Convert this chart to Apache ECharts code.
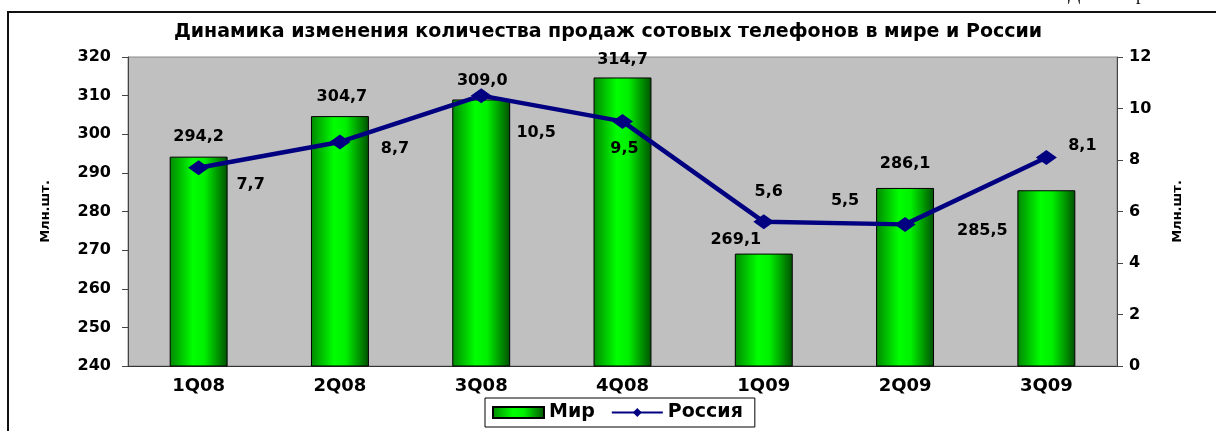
<!DOCTYPE html>
<html lang="ru">
<head>
<meta charset="UTF-8">
<title>Продажи сотовых телефонов</title>
<script src="https://cdn.jsdelivr.net/npm/echarts@6/dist/echarts.min.js"></script>
<style>
  html, body { margin: 0; padding: 0; background: #fff; }
  #chart { width: 1216px; height: 431px; }
</style>
</head>
<body>
<div id="chart"></div>
<script>
// данные
var categories = ['1Q08', '2Q08', '3Q08', '4Q08', '1Q09', '2Q09', '3Q09'];
var worldSales = [294.2, 304.7, 309.0, 314.7, 269.1, 286.1, 285.5];
var russiaSales = [7.7, 8.7, 10.5, 9.5, 5.6, 5.5, 8.1];
var leftAxisRange = [240, 320, 10];
var rightAxisRange = [0, 12, 2];

var FONT = 'DejaVu Sans';

// where each value label sits (Excel put them by hand)
var barLabelShift = [[0, -12], [2, -11], [1, -11], [0, -10], [-28, -6], [0, -16], [-64, 49]];
var lineLabelShift = [[52, 17], [55, 7], [55, 37], [2, 27], [5, -30], [-60, -24], [36, -12]];

function fmt(v) {
    return v.toFixed(1).replace('.', ',');
}

var barGradient = new echarts.graphic.LinearGradient(0, 0, 1, 0, [
    { offset: 0, color: '#008800' },
    { offset: 0.4, color: '#00ff00' },
    { offset: 0.6, color: '#00f000' },
    { offset: 1, color: '#005000' }
]);

var labelStyle = { fontFamily: FONT, fontWeight: 'bold', fontSize: 16, color: '#000' };

var barData = worldSales.map(function (v, i) {
    return {
        value: v,
        label: { offset: barLabelShift[i] }
    };
});
var lineData = russiaSales.map(function (v, i) {
    return {
        value: v,
        label: { offset: lineLabelShift[i] }
    };
});

var axisLabelStyle = { fontFamily: FONT, fontWeight: 'bold', fontSize: 16, color: '#000' };

var option = {
    animation: false,
    backgroundColor: '#fff',
    title: {
        text: 'Динамика изменения количества продаж сотовых телефонов в мире и России',
        left: 'center',
        top: 23,
        padding: 0,
        textStyle: { fontFamily: FONT, fontWeight: 'bold', fontSize: 19, color: '#000' }
    },
    legend: {
        left: 485,
        top: 398,
        padding: [5, 12, 5, 7],
        itemWidth: 51,
        itemHeight: 11,
        itemGap: 16,
        borderColor: '#000',
        borderWidth: 1,
        backgroundColor: '#fff',
        textStyle: { fontFamily: FONT, fontWeight: 'bold', fontSize: 19, color: '#000' },
        data: [{ name: 'Мир', icon: 'rect' }, { name: 'Россия' }]
    },
    grid: {
        left: 128,
        right: 99,
        top: 57,
        bottom: 65,
        show: true,
        backgroundColor: '#c0c0c0',
        borderColor: '#8a8a8a',
        borderWidth: 1
    },
    xAxis: {
        type: 'category',
        data: categories,
        axisLine: { lineStyle: { color: '#333', width: 1 } },
        axisTick: { show: false },
        axisLabel: Object.assign({ margin: 11 }, axisLabelStyle, { fontSize: 18 })
    },
    yAxis: [
        {
            type: 'value',
            min: leftAxisRange[0],
            max: leftAxisRange[1],
            interval: leftAxisRange[2],
            name: 'Млн.шт.',
            nameLocation: 'middle',
            nameRotate: 90,
            nameGap: 76,
            nameTextStyle: { fontFamily: FONT, fontWeight: 'bold', fontSize: 13, color: '#000' },
            axisLine: { show: true, lineStyle: { color: '#444' } },
            axisTick: { show: true, length: 6, lineStyle: { color: '#444' } },
            splitLine: { show: false },
            axisLabel: Object.assign({ margin: 17 }, axisLabelStyle)
        },
        {
            type: 'value',
            min: rightAxisRange[0],
            max: rightAxisRange[1],
            interval: rightAxisRange[2],
            position: 'right',
            name: 'Млн.шт.',
            nameLocation: 'middle',
            nameRotate: 90,
            nameGap: 54,
            nameTextStyle: { fontFamily: FONT, fontWeight: 'bold', fontSize: 13, color: '#000' },
            axisLine: { show: true, lineStyle: { color: '#444' } },
            axisTick: { show: true, length: 6, lineStyle: { color: '#444' } },
            splitLine: { show: false },
            axisLabel: Object.assign({ margin: 12 }, axisLabelStyle)
        }
    ],
    series: [
        {
            name: 'Мир',
            type: 'bar',
            yAxisIndex: 0,
            barWidth: '41%',
            data: barData,
            itemStyle: { color: barGradient, borderColor: '#000', borderWidth: 1 },
            label: Object.assign({
                show: true,
                position: 'top',
                distance: 0,
                formatter: function (p) { return fmt(p.value); }
            }, labelStyle)
        },
        {
            name: 'Россия',
            type: 'line',
            yAxisIndex: 1,
            data: lineData,
            symbol: 'diamond',
            symbolSize: [21, 15],
            lineStyle: { color: '#000080', width: 4.5 },
            itemStyle: { color: '#000080' },
            label: Object.assign({
                show: true,
                position: 'inside',
                formatter: function (p) { return fmt(p.value); }
            }, labelStyle)
        }
    ],
    graphic: [
        {
            type: 'polyline',
            shape: { points: [[8, 431], [8, 12], [1216, 12]] },
            style: { stroke: '#111', lineWidth: 2, fill: null }
        },
        {
            type: 'text', left: 1068, top: -14,
            style: { text: 'Д', font: '18px "Liberation Serif"', fill: '#000' }
        },
        {
            type: 'text', left: 1136, top: -14,
            style: { text: 'р', font: '18px "Liberation Serif"', fill: '#000' }
        }
    ]
};

var myChart = echarts.init(document.getElementById('chart'));
myChart.setOption(option);
</script>
</body>
</html>
